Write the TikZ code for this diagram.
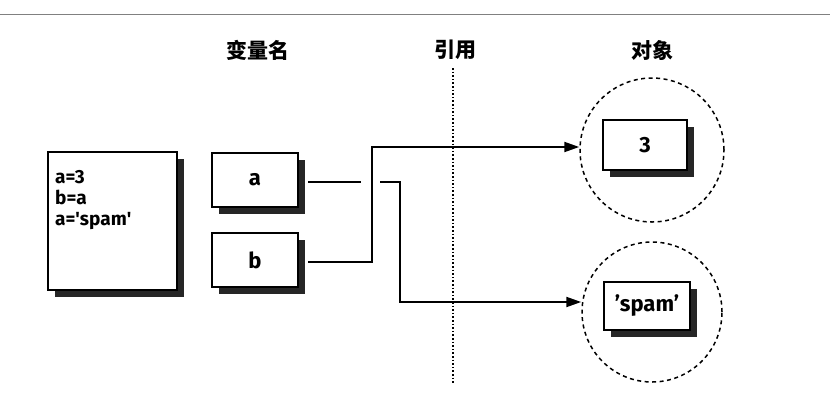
\documentclass[tikz,border=0pt]{standalone}
\usepackage{fontspec}
\setmainfont{Fira Sans}
\newfontfamily\cjk{Noto Sans CJK SC}
\usetikzlibrary{shadows,arrows.meta}
\begin{document}
\begin{tikzpicture}[x=1pt,y=-1pt,
  box/.style={draw=black,line width=1.2pt,fill=white,inner sep=0pt,
    drop shadow={shadow xshift=7pt,shadow yshift=-7pt,fill=black,opacity=0.85}},
  hdr/.style={font=\cjk\bfseries\fontsize{21}{24}\selectfont},
  lbl/.style={font=\bfseries\fontsize{22}{26}\selectfont},
  conn/.style={line width=2pt},
  arr/.style={conn,-{Triangle[length=15pt,width=10pt]}},
  obj/.style={circle,draw,line width=1.5pt,dash pattern=on 4pt off 3.5pt}]
\useasboundingbox (0,0) rectangle (830,400);
\draw[line width=0.8pt,gray] (0,14) -- (830,14);
\node[hdr] (h1) at (258,50) {变量名};
\node[hdr] (h2) at (455,50) {引用};
\node[hdr] (h3) at (652,50) {对象};
\coordinate (dtop) at (453,68);
\coordinate (dbot) at (453,384);
\draw[line width=1.6pt,dotted] (dtop) -- (dbot);
\node[box,minimum width=129pt,minimum height=138pt] (code) at (112.5,221) {};
\node[anchor=north west,align=left,font=\bfseries\fontsize{19}{21}\selectfont,inner sep=0pt] (codetxt) at (55,170) {a=3\\b=a\\a=\textquotesingle spam\textquotesingle};
\node[box,minimum width=86pt,minimum height=54pt,lbl] (a) at (255,180) {a};
\node[box,minimum width=86pt,minimum height=54pt,lbl] (b) at (255,260) {b};
\node[obj,minimum size=144pt] (c1) at (652,150) {};
\node[obj,minimum size=140pt] (c2) at (652,312) {};
\node[box,minimum width=84pt,minimum height=50pt,lbl] (o3) at (645,145) {3};
\node[box,minimum width=86pt,minimum height=48pt,lbl] (osp) at (647,306) {'spam'};
\coordinate (a1) at (308,182);
\coordinate (a2) at (361,182);
\coordinate (a3) at (380,182);
\coordinate (b1) at (308,262);
\draw[conn] (a1) -- (a2);
\draw[arr] (b1) -- (372,262) -- (372,147) -- (c1.west|-0,147);
\draw[arr] (a3) -- (400,182) -- (400,302) -- (c2.west|-0,302);
\end{tikzpicture}
\end{document}
